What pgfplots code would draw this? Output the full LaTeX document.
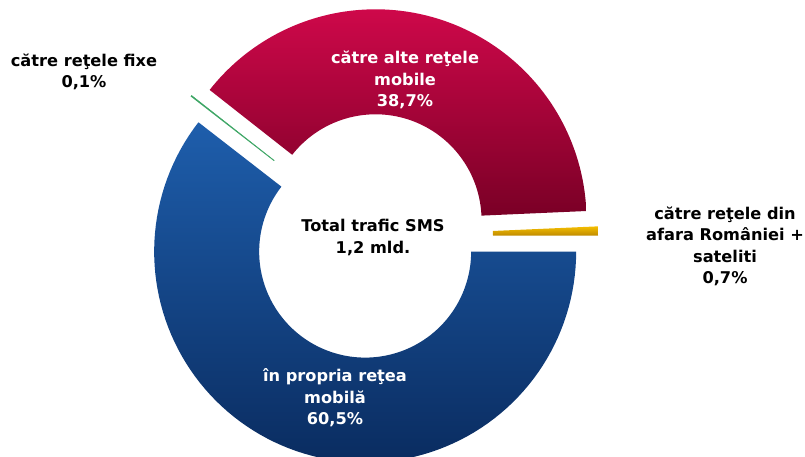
\documentclass[border=0pt]{standalone}
\usepackage{pgfplots}
\pgfplotsset{compat=1.18}
\usepackage{pgfplotstable}
\usepackage{fontspec}
\setmainfont{DejaVu Sans}

\definecolor{redT}{RGB}{206,8,74}
\definecolor{redB}{RGB}{122,0,38}
\definecolor{blueT}{RGB}{30,94,172}
\definecolor{blueB}{RGB}{10,44,96}
\definecolor{yelT}{RGB}{245,190,0}
\definecolor{yelB}{RGB}{190,138,0}
\definecolor{greenL}{RGB}{60,165,100}

\pgfplotstableread{
label pct
propria 60.5
fixe 0.1
alte 38.7
afara 0.7
}\smsdata

\pgfplotstablegetelem{0}{pct}\of\smsdata\pgfmathsetmacro\pA{\pgfplotsretval}
\pgfplotstablegetelem{1}{pct}\of\smsdata\pgfmathsetmacro\pB{\pgfplotsretval}
\pgfplotstablegetelem{2}{pct}\of\smsdata\pgfmathsetmacro\pC{\pgfplotsretval}
\pgfplotstablegetelem{3}{pct}\of\smsdata\pgfmathsetmacro\pD{\pgfplotsretval}
\pgfmathsetmacro\aA{0}
\pgfmathsetmacro\aB{\aA-3.6*\pA}
\pgfmathsetmacro\aC{\aB-3.6*\pB}
\pgfmathsetmacro\aD{\aC-3.6*\pC}
\pgfmathsetmacro\aE{\aD-3.6*\pD}

% annular sector: start angle, end angle, style
\newcommand\ring[3]{%
 \addplot[draw=none,#3,domain=0:201,samples=202,variable=\t]
 ({370.5+16.5*cos(((#1)+(#2))/2)+ifthenelse(\t<100.5,211*cos((#1)+((#2)-(#1))*\t/100),106*cos((#2)-((#2)-(#1))*(\t-101)/100))},
  {221+16.5*sin(((#1)+(#2))/2)+ifthenelse(\t<100.5,211*sin((#1)+((#2)-(#1))*\t/100),106*sin((#2)-((#2)-(#1))*(\t-101)/100))});
}

\begin{document}
\begin{tikzpicture}
\useasboundingbox (0,0) rectangle (805bp,457bp);
\begin{axis}[
  at={(0,0)}, anchor=south west,
  width=805bp, height=457bp, scale only axis,
  xmin=0, xmax=805, ymin=0, ymax=457,
  hide axis, clip=false,
]
\ring{\aA}{\aB}{top color=blueT, bottom color=blueB}
\ring{\aB}{\aC}{fill=greenL, draw=greenL, line width=0.5pt}
\ring{\aC}{\aD}{top color=redT, bottom color=redB}
\ring{\aD}{\aE}{top color=yelT, bottom color=yelB}

\tikzset{lbl/.style={align=center, inner sep=0pt, font=\fontsize{16.2bp}{21.5bp}\selectfont\bfseries}}
\node[lbl, text=white] at (axis cs:405,377) {către alte reţele\\mobile\\38,7\%};
\node[lbl, text=white] at (axis cs:335,59) {în propria reţea\\mobilă\\60,5\%};
\node[lbl, text=black] at (axis cs:373,219.5) {Total trafic SMS\\1,2 mld.};
\node[lbl, text=black] at (axis cs:84,385) {către reţele fixe\\0,1\%};
\node[lbl, text=black] at (axis cs:725,210.5) {către reţele din\\afara României +\\sateliti\\0,7\%};
\end{axis}
\end{tikzpicture}
\end{document}
